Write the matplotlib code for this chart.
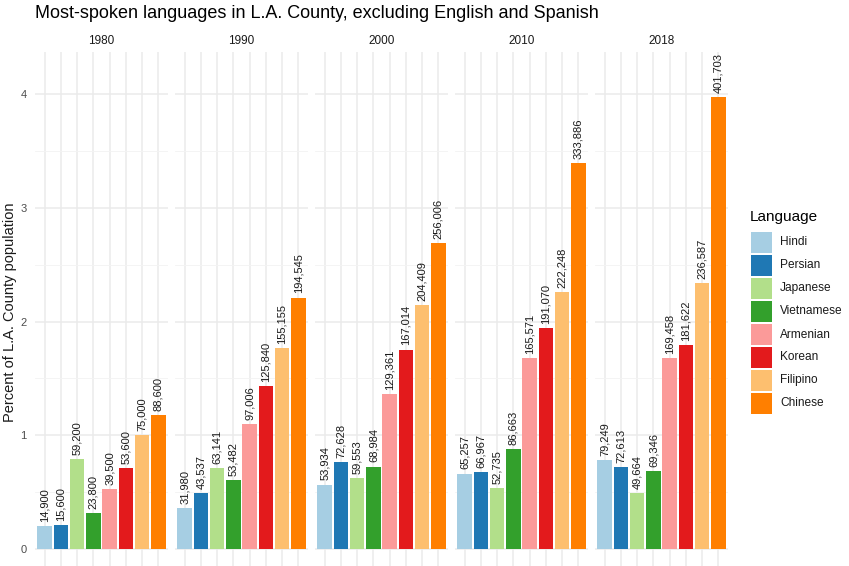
import matplotlib.pyplot as plt
from matplotlib.patches import Rectangle

plt.rcParams['font.family'] = ['Liberation Sans', 'DejaVu Sans']

# data
years = ["1980", "1990", "2000", "2010", "2018"]
languages = ["Hindi", "Persian", "Japanese", "Vietnamese",
             "Armenian", "Korean", "Filipino", "Chinese"]
colors = ["#A6CEE3", "#1F78B4", "#B2DF8A", "#33A02C",
          "#FB9A99", "#E31A1C", "#FDBF6F", "#FF7F00"]

# percent of county population
pct_1980 = [0.199, 0.208, 0.789, 0.317, 0.527, 0.715, 1.000, 1.181]
pct_1990 = [0.363, 0.495, 0.712, 0.605, 1.100, 1.430, 1.763, 2.211]
pct_2000 = [0.567, 0.763, 0.626, 0.725, 1.359, 1.754, 2.147, 2.689]
pct_2010 = [0.663, 0.680, 0.535, 0.880, 1.681, 1.940, 2.256, 3.390]
pct_2018 = [0.784, 0.718, 0.491, 0.686, 1.676, 1.796, 2.340, 3.973]

# speaker counts shown as bar labels
cnt_1980 = [14900, 15600, 59200, 23800, 39500, 53600, 75000, 88600]
cnt_1990 = [31980, 43537, 63141, 53482, 97006, 125840, 155155, 194545]
cnt_2000 = [53934, 72628, 59553, 68984, 129361, 167014, 204409, 256006]
cnt_2010 = [65257, 66967, 52735, 86663, 165571, 191070, 222248, 333886]
cnt_2018 = [79249, 72613, 49664, 69346, 169458, 181622, 236587, 401703]

pct = [pct_1980, pct_1990, pct_2000, pct_2010, pct_2018]
cnt = [cnt_1980, cnt_1990, cnt_2000, cnt_2010, cnt_2018]

W, H = 849, 566
fig = plt.figure(figsize=(W / 100, H / 100), dpi=100)

y_lo, y_hi = -0.2, 4.37
top_px, bot_px = 52, 571.75
grid_col = "#EBEBEB"

for i, yr in enumerate(years):
    left_px = 35 + i * 140
    ax = fig.add_axes([left_px / W, (H - bot_px) / H, 133 / W, (bot_px - top_px) / H])
    ax.set_xlim(-0.6, 7.6)
    ax.set_ylim(y_lo, y_hi)
    for s in ax.spines.values():
        s.set_visible(False)

    # grid
    for k in range(8):
        ax.axvline(k, color=grid_col, lw=1.1, zorder=0)
    for v in [0.5, 1.5, 2.5, 3.5]:
        ax.axhline(v, color="#F3F3F3", lw=0.6, zorder=0)
    for v in [0, 1, 2, 3, 4]:
        ax.axhline(v, color=grid_col, lw=1.1, zorder=0)

    x = list(range(len(languages)))
    ax.bar(x, pct[i], width=0.9, color=colors, zorder=2)
    for xi, p, c in zip(x, pct[i], cnt[i]):
        ax.annotate(f"{c:,}", (xi, p), xytext=(0, 3), textcoords="offset points",
                    rotation=90, ha="center", va="bottom", fontsize=8,
                    color="#1A1A1A", zorder=3)

    ax.set_xticks([])
    if i == 0:
        ax.set_yticks([0, 1, 2, 3, 4])
        ax.tick_params(axis="y", length=0, labelsize=8, labelcolor="#4D4D4D", pad=6)
    else:
        ax.set_yticks([])
    fig.text((left_px + 66.5) / W, 1 - 41 / H, yr, ha="center", va="center",
             fontsize=8.5, color="#1A1A1A")

fig.text(10 / W, 1 - 312 / H, "Percent of L.A. County population", rotation=90,
         ha="center", va="center", fontsize=10.5, color="#1A1A1A")

fig.text(35 / W, 1 - 13 / H, "Most-spoken languages in L.A. County, excluding English and Spanish",
         ha="left", va="center", fontsize=13, color="black")

# legend drawn by hand so the key sizes match
fig.text(750 / W, 1 - 217 / H, "Language", ha="left", va="center", fontsize=11, color="black")
for j, (lang, col) in enumerate(zip(languages, colors)):
    top = 232 + 23 * j
    fig.patches.append(Rectangle((751 / W, 1 - (top + 21) / H), 21 / W, 21 / H,
                                 transform=fig.transFigure, facecolor=col, edgecolor="none"))
    fig.text(780 / W, 1 - (top + 10.5) / H, lang, ha="left", va="center",
             fontsize=8.6, color="#1A1A1A")

fig.savefig("out.png", dpi=100)
